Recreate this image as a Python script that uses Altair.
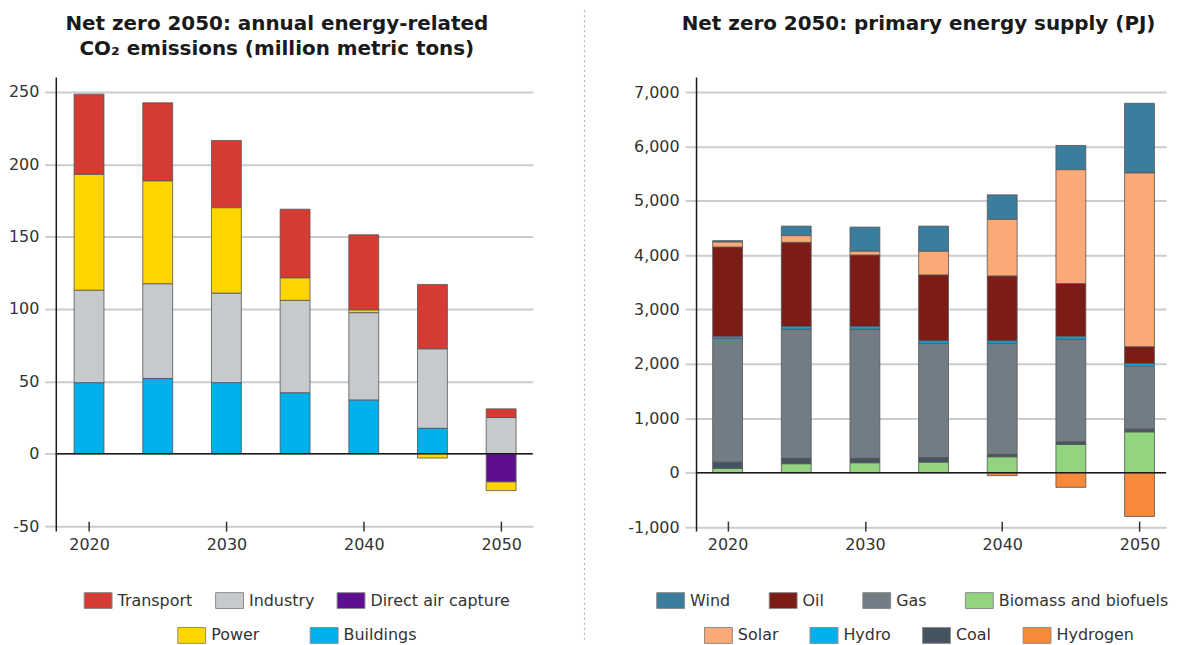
import altair as alt
import pandas as pd

years = [2020, 2025, 2030, 2035, 2040, 2045, 2050]

# Left panel: annual energy-related CO2 emissions (million metric tons)
em_buildings = [49, 52, 49, 42, 37, 17.5, 0]
em_industry = [64, 65.5, 62, 64, 60.5, 55, 25]
em_dac = [0, 0, 0, 0, 0, 0, -19.5]
em_power = [80, 71, 59, 15.5, 1.8, -3, -6]
em_transport = [55.5, 54, 46.5, 47.5, 52, 44.5, 6]

em_names = ["Buildings", "Industry", "Direct air capture", "Power", "Transport"]
em_colors = ["#00b0eb", "#c6cacd", "#5e0f91", "#ffd500", "#d43b33"]
em_row1 = ["Transport", "Industry", "Direct air capture"]
em_row2 = ["Power", "Buildings"]

# Right panel: primary energy supply (PJ)
pe_hydrogen = [0, 0, 0, 0, -55, -270, -805]
pe_biomass = [80, 165, 183, 195, 293, 518, 751]
pe_coal = [110, 97, 79, 80, 42, 49, 48]
pe_gas = [2282, 2380, 2380, 2105, 2045, 1892, 1160]
pe_hydro = [30, 43, 43, 43, 43, 43, 45]
pe_oil = [1648, 1551, 1318, 1214, 1196, 977, 313]
pe_solar = [91, 122, 68, 434, 1038, 2093, 3194]
pe_wind = [26, 176, 445, 463, 452, 445, 1282]

pe_names = ["Hydrogen", "Biomass and biofuels", "Coal", "Gas", "Hydro", "Oil", "Solar", "Wind"]
pe_colors = ["#f7893b", "#92d480", "#465461", "#727c84", "#00b0eb", "#7b1c17", "#f9aa78", "#3b7d9c"]
pe_row1 = ["Wind", "Oil", "Gas", "Biomass and biofuels"]
pe_row2 = ["Solar", "Hydro", "Coal", "Hydrogen"]

FONT = "DejaVu Sans"
FS = 16
GRID = "#c9cdd1"
TXT = "#333333"
SYM = "M-1,-0.57H1V0.57H-1Z"


def long_table(names, series, row1):
    recs = []
    for k, (name, vals) in enumerate(zip(names, series)):
        for yr, v in zip(years, vals):
            recs.append({"year": yr, "series": name, "value": v, "order": k,
                         "row": 1 if name in row1 else 2})
    return pd.DataFrame(recs)


def panel(df, names, colors, rows, ydom, yvals, label_expr, xdom, width, height,
          title, legend_pos, col_pad):
    color_of = dict(zip(names, colors))
    xaxis = alt.Axis(values=[2020, 2030, 2040, 2050], format="d", title=None, grid=False,
                     domain=False, tickColor=TXT, tickWidth=1.5, tickSize=10, offset=-10,
                     labelFont=FONT, labelFontSize=FS, labelColor=TXT, labelPadding=5)
    yaxis = alt.Axis(values=yvals, title=None, grid=True, gridColor=GRID, gridWidth=2,
                     domain=True, domainColor="#1a1a1a", domainWidth=1.5, tickColor=GRID,
                     tickWidth=2, tickSize=11, labelFont=FONT, labelFontSize=FS,
                     labelColor=TXT, labelPadding=6, labelExpr=label_expr)
    xenc = alt.X("year:Q",
                 scale=alt.Scale(domain=xdom, nice=False, zero=False, padding=0),
                 axis=xaxis)
    yscale = alt.Scale(domain=ydom, nice=False, zero=False, padding=0)
    base = (alt.Chart(df)
            .transform_filter("datum.value != 0")
            .transform_stack(stack="value", groupby=["year"], as_=["v0", "v1"],
                             sort=[alt.SortField("order", order="ascending")]))
    layers = []
    for rn, (lx, ly), cp in zip(rows, legend_pos, col_pad):
        leg = alt.Legend(title=None, orient="none", legendX=lx, legendY=ly,
                         direction="horizontal", symbolType=SYM, symbolSize=784,
                         symbolStrokeColor="#8c8c8c", symbolStrokeWidth=1, symbolOpacity=1,
                         labelFont=FONT, labelFontSize=FS, labelColor=TXT, labelOffset=5,
                         labelLimit=400, columnPadding=cp, padding=0)
        layers.append(
            base.transform_filter(alt.FieldOneOfPredicate(field="series", oneOf=rn))
            .mark_bar(size=30, stroke="#555555", strokeWidth=0.8)
            .encode(x=xenc,
                    y=alt.Y("v0:Q", scale=yscale, axis=yaxis),
                    y2="v1:Q",
                    color=alt.Color("series:N",
                                    scale=alt.Scale(domain=rn, range=[color_of[n] for n in rn]),
                                    legend=leg))
        )
    zero = (alt.Chart(pd.DataFrame({"zero": [0]}))
            .mark_rule(color="#1a1a1a", strokeWidth=1.5)
            .encode(y=alt.Y("zero:Q", scale=yscale, axis=yaxis)))
    layers.append(zero)
    return (alt.layer(*layers)
            .resolve_scale(color="independent")
            .properties(width=width, height=height, title=title))


em_df = long_table(em_names, [em_buildings, em_industry, em_dac, em_power, em_transport], em_row1)
pe_df = long_table(pe_names, [pe_hydrogen, pe_biomass, pe_coal, pe_gas, pe_hydro, pe_oil,
                              pe_solar, pe_wind], pe_row1)

neg_expr = "datum.value < 0 ? '-' + format(-datum.value, ',') : format(datum.value, ',')"

TFONT = "DejaVu Sans"
left_title = alt.TitleParams(
    text=["Net zero 2050: annual energy-related", "CO₂ emissions (million metric tons)"],
    font=TFONT, fontSize=20, fontWeight="bold", color="#1a1a1a", anchor="middle",
    frame="group", dx=-17.5, offset=-1.5, lineHeight=25, baseline="bottom")
right_title = alt.TitleParams(
    text="Net zero 2050: primary energy supply (PJ)",
    font=TFONT, fontSize=20, fontWeight="bold", color="#1a1a1a", anchor="middle",
    frame="group", dx=-12.5, offset=23.5, baseline="bottom")

left = panel(em_df, em_names, em_colors, [em_row1, em_row2], [-53.5, 260.3],
             [-50, 0, 50, 100, 150, 200, 250], neg_expr, [2017.58, 2052.3], 479, 456,
             left_title, [(28, 511), (122, 546)], [20, 48])
right = panel(pe_df, pe_names, pe_colors, [pe_row1, pe_row2], [-1075, 7275],
              [-1000, 0, 1000, 2000, 3000, 4000, 5000, 6000, 7000], neg_expr,
              [2017.7, 2051.93], 472, 456, right_title, [(-40, 511), (8, 546)], [36, 29])

# dotted divider between the two panels (with invisible edge rules to fix its cell width)
div_df = pd.DataFrame({"d": [0]})
div_line = (alt.Chart(div_df)
            .mark_rule(color="#b5b5b5", strokeDash=[2, 3], strokeWidth=1.2)
            .encode(x=alt.value(41), y=alt.value(-67), y2=alt.value(568)))
div_l = (alt.Chart(div_df).mark_rule(strokeOpacity=0)
         .encode(x=alt.value(0), y=alt.value(0), y2=alt.value(10)))
div_r = (alt.Chart(div_df).mark_rule(strokeOpacity=0)
         .encode(x=alt.value(74), y=alt.value(0), y2=alt.value(10)))
divider = alt.layer(div_l, div_line, div_r).properties(width=74, height=456)

chart = (alt.hconcat(left, divider, right, spacing=10)
         .properties(padding={"left": 0, "top": 0, "right": 0, "bottom": 0})
         .configure_view(stroke=None))

chart.save("out.html", embed_options={"renderer": "svg", "actions": False})
